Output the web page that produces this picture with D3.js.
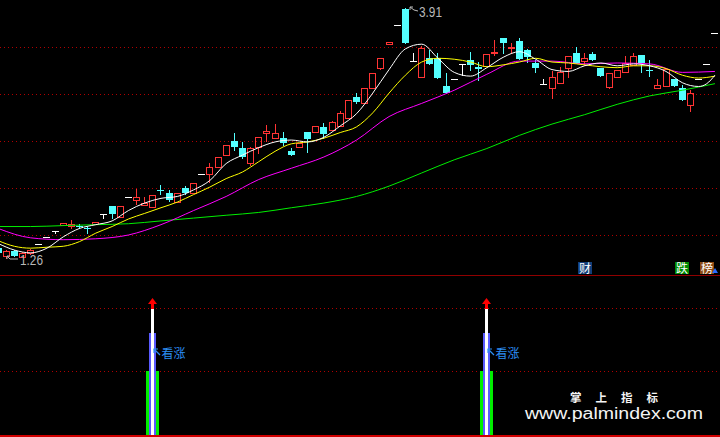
<!DOCTYPE html>
<html><head><meta charset="utf-8">
<script src="https://cdn.jsdelivr.net/npm/d3@7"></script>
<style>html,body{margin:0;padding:0;background:#000;overflow:hidden}svg{display:block}</style>
</head><body>
<svg id="c" width="720" height="437"></svg>
<script>
// ---- data (trading-day index 0..88) ----
const days = d3.range(89);
const open = [1.36,1.28,1.33,1.27,1.31,1.40,1.48,1.54,1.61,1.60,1.60,1.57,1.62,1.72,1.81,1.69,1.90,1.87,1.82,1.80,
1.98,1.95,1.85,2.00,1.95,2.15,2.15,2.22,2.35,2.50,2.43,2.27,2.44,2.59,2.53,2.53,2.39,2.44,2.60,2.60,
2.65,2.62,2.66,2.74,2.97,2.90,3.06,3.28,3.53,3.73,3.90,3.35,3.18,3.38,3.38,3.09,3.16,3.32,3.36,3.29,
3.30,3.44,3.60,3.49,3.56,3.47,3.33,3.11,3.06,3.12,3.28,3.44,3.35,3.43,3.28,3.07,3.18,3.23,3.31,3.42,
3.26,3.06,3.09,3.16,3.06,2.88,3.16,3.32,3.65];
const high = [1.37,1.34,1.34,1.32,1.35,1.40,1.48,1.54,1.63,1.66,1.62,1.60,1.64,1.72,1.81,1.81,1.90,1.99,1.90,1.93,
2.03,1.98,1.95,2.02,2.05,2.15,2.27,2.33,2.46,2.59,2.49,2.44,2.54,2.67,2.68,2.60,2.43,2.48,2.60,2.66,
2.69,2.71,2.82,2.94,3.01,3.06,3.22,3.38,3.55,3.73,3.91,3.44,3.51,3.47,3.44,3.22,3.16,3.32,3.45,3.34,
3.43,3.57,3.60,3.54,3.60,3.48,3.36,3.16,3.24,3.29,3.40,3.50,3.44,3.45,3.28,3.22,3.26,3.40,3.44,3.42,
3.36,3.16,3.27,3.16,3.10,3.04,3.16,3.32,3.65];
const low = [1.30,1.26,1.28,1.27,1.30,1.40,1.48,1.52,1.61,1.57,1.57,1.52,1.62,1.68,1.68,1.69,1.90,1.83,1.82,1.80,
1.94,1.86,1.85,1.94,1.95,2.15,2.06,2.22,2.35,2.40,2.32,2.25,2.37,2.50,2.53,2.46,2.35,2.44,2.38,2.60,
2.53,2.62,2.66,2.74,2.90,2.90,3.06,3.27,3.53,3.73,3.54,3.35,3.18,3.32,3.17,3.01,3.16,3.20,3.26,3.15,
3.30,3.41,3.44,3.44,3.37,3.34,3.23,3.11,2.96,3.12,3.18,3.33,3.31,3.36,3.19,3.06,3.18,3.23,3.31,3.23,
3.19,3.06,3.09,3.09,2.94,2.82,3.16,3.32,3.65];
const close = [1.31,1.33,1.28,1.31,1.34,1.40,1.48,1.54,1.63,1.62,1.59,1.56,1.64,1.72,1.72,1.81,1.90,1.90,1.84,1.93,
1.97,1.87,1.95,1.95,2.05,2.15,2.22,2.33,2.46,2.44,2.33,2.43,2.54,2.61,2.59,2.48,2.35,2.48,2.52,2.66,
2.57,2.70,2.80,2.94,2.91,3.06,3.22,3.38,3.55,3.73,3.54,3.35,3.49,3.32,3.17,3.01,3.16,3.32,3.31,3.27,
3.43,3.45,3.54,3.50,3.37,3.39,3.28,3.11,3.18,3.23,3.40,3.33,3.38,3.36,3.19,3.22,3.26,3.33,3.40,3.33,
3.25,3.10,3.27,3.09,2.94,3.01,3.16,3.32,3.65];

// moving averages
const ma5Days = [0,2,4,6,8,10,12,14,16,18,20,22,24,26,28,30,32,34,36,38,40,42,44,46,48,50,52,54,56,58,60,62,64,66,68,70,72,74,76,78,80,82,84,86,87,88];
const ma5 = [1.41,1.34,1.31,1.36,1.48,1.57,1.61,1.65,1.76,1.84,1.89,1.91,1.98,2.08,2.26,2.35,2.43,2.49,2.51,2.49,2.54,2.66,2.79,3.01,3.26,3.48,3.53,3.38,3.23,3.19,3.28,3.39,3.45,3.37,3.26,3.24,3.30,3.33,3.30,3.32,3.30,3.24,3.12,3.08,3.11,3.20];
const ma10Days = [0,2,4,6,8,10,12,14,16,18,20,22,24,26,28,30,32,34,36,38,40,42,44,46,48,50,52,54,56,58,60,62,64,66,68,70,72,74,76,78,80,82,84,86,88];
const ma10 = [1.44,1.38,1.36,1.37,1.38,1.43,1.52,1.59,1.67,1.73,1.79,1.85,1.93,2.01,2.10,2.17,2.28,2.39,2.47,2.49,2.53,2.59,2.65,2.80,3.01,3.20,3.34,3.38,3.37,3.34,3.29,3.31,3.34,3.38,3.34,3.33,3.31,3.29,3.28,3.30,3.30,3.27,3.20,3.17,3.19];
const ma20Days = [0,4,8,12,16,20,24,28,32,36,40,44,48,52,56,60,64,68,72,76,80,84,88];
const ma20 = [1.57,1.47,1.45,1.46,1.50,1.61,1.76,1.91,2.09,2.21,2.33,2.51,2.76,2.90,3.04,3.21,3.35,3.35,3.32,3.33,3.32,3.23,3.24];
const ma60Days = [0,4,8,12,16,20,24,28,32,36,40,44,48,52,56,60,64,68,72,76,80,84,88];
const ma60 = [1.59,1.59,1.60,1.61,1.62,1.65,1.68,1.71,1.74,1.79,1.84,1.91,2.02,2.16,2.30,2.42,2.56,2.68,2.78,2.89,2.98,3.04,3.11];

const priceTicks = [1.5, 2.0, 2.5, 3.0, 3.5];
const highLabel = "3.91", lowLabel = "1.26";
const highDay = 50, lowDay = 1;

// lower indicator panel
const signalDays = [19, 60];
const sigGreen = [50, 50];
const sigBlue = [80, 80];
const sigWhite = [100, 100];
const subTicks = [50, 100];
const signalText = "看涨";

// ---- drawing ----
const W = 720, H = 437;
const svg = d3.select('#c');
svg.append('rect').attr('width', W).attr('height', H).attr('fill', '#000');

const x = d3.scaleBand().domain(days).range([-6, 719]);
const bw = x.bandwidth();
const cxp = i => Math.floor(x(i) + bw / 2);
const y = d3.scaleLinear().domain([1.5, 3.5]).range([235, 47]);
const yS = d3.scaleLinear().domain([0, 100]).range([434, 308]);

const RED = '#ff3434', CYAN = '#54ffff', GRID = '#b00000';

// grid lines
svg.append('g').selectAll('line').data(priceTicks).join('line')
  .attr('x1', 0).attr('x2', W)
  .attr('y1', d => Math.round(y(d)) + 0.5).attr('y2', d => Math.round(y(d)) + 0.5)
  .attr('stroke', GRID).attr('stroke-dasharray', '1,3');
svg.append('g').selectAll('line').data(subTicks).join('line')
  .attr('x1', 0).attr('x2', W)
  .attr('y1', d => Math.round(yS(d)) + 0.5).attr('y2', d => Math.round(yS(d)) + 0.5)
  .attr('stroke', GRID).attr('stroke-dasharray', '1,3');

// panel separators
svg.append('line').attr('x1', 0).attr('x2', W).attr('y1', 275.5).attr('y2', 275.5)
  .attr('stroke', '#900000');
svg.append('rect').attr('x', 0).attr('y', 435).attr('width', W).attr('height', 2).attr('fill', '#d00000');

// main clip
svg.append('clipPath').attr('id', 'mc').append('rect').attr('x', 0).attr('y', 0).attr('width', W).attr('height', 275);
const main = svg.append('g').attr('clip-path', 'url(#mc)');
const cg = main.append('g').attr('shape-rendering', 'crispEdges');

days.forEach(i => {
  const o = open[i], c = close[i], h = high[i], l = low[i];
  const px = cxp(i);
  const yh = Math.round(y(h)), yl = Math.round(y(l));
  const yo = Math.round(y(o)), yc = Math.round(y(c));
  if (c > o) {
    const top = yc, bot = yo;
    if (bot - top >= 2) {
      if (yh < top) cg.append('line').attr('x1', px + 0.5).attr('x2', px + 0.5).attr('y1', yh).attr('y2', top).attr('stroke', RED);
      if (yl > bot) cg.append('line').attr('x1', px + 0.5).attr('x2', px + 0.5).attr('y1', bot + 1).attr('y2', yl + 1).attr('stroke', RED);
      cg.append('rect').attr('x', px - 2.5).attr('y', top + 0.5).attr('width', 6).attr('height', bot - top)
        .attr('fill', 'none').attr('stroke', RED);
    } else {
      cg.append('line').attr('x1', px + 0.5).attr('x2', px + 0.5).attr('y1', yh).attr('y2', yl + 1).attr('stroke', RED);
      cg.append('rect').attr('x', px - 3).attr('y', top).attr('width', 7).attr('height', Math.max(2, bot - top + 1)).attr('fill', RED);
    }
  } else if (c < o) {
    cg.append('line').attr('x1', px + 0.5).attr('x2', px + 0.5).attr('y1', yh).attr('y2', yl + 1).attr('stroke', CYAN);
    cg.append('rect').attr('x', px - 3).attr('y', yo).attr('width', 7).attr('height', Math.max(1, yc - yo)).attr('fill', CYAN);
  } else {
    cg.append('line').attr('x1', px - 3).attr('x2', px + 4).attr('y1', yc + 0.5).attr('y2', yc + 0.5).attr('stroke', '#fff');
    if (yl > yh) cg.append('line').attr('x1', px + 0.5).attr('x2', px + 0.5).attr('y1', yh).attr('y2', yl + 1).attr('stroke', '#fff');
  }
});

// moving average lines
const mkLine = d3.line().x(d => x(d[0]) + bw / 2).y(d => y(d[1])).curve(d3.curveMonotoneX);
[[ma60Days, ma60, '#00ee00'], [ma20Days, ma20, '#ff00ff'], [ma10Days, ma10, '#ffff00'], [ma5Days, ma5, '#ffffff']]
  .forEach(([ds, vs, col]) => {
    main.append('path').attr('d', mkLine(ds.map((d, k) => [d, vs[k]])))
      .attr('fill', 'none').attr('stroke', col).attr('stroke-width', 1);
  });

// high / low markers
{
  const px = cxp(highDay), yh = Math.round(y(high[highDay]));
  const col = '#b8b8b8';
  main.append('path').attr('d', `M${px + 5},${yh - 1} L${px + 9},${yh + 2} L${px + 13},${yh + 3}`).attr('fill', 'none').attr('stroke', col);
  main.append('path').attr('d', `M${px + 5},${yh + 2} L${px + 5},${yh - 1} L${px + 8},${yh - 1}`).attr('fill', 'none').attr('stroke', col);
  main.append('text').attr('x', px + 14).attr('y', yh + 9).text(highLabel)
    .attr('font-family', 'Liberation Sans, Arial, sans-serif').attr('font-size', 14).attr('fill', col)
    .attr('textLength', 23).attr('lengthAdjust', 'spacingAndGlyphs');
}
{
  const px = cxp(lowDay), yl = Math.round(y(low[lowDay]));
  const col = '#b8b8b8';
  main.append('path').attr('d', `M${px + 1},${yl - 2} L${px + 4},${yl + 1} L${px + 12},${yl + 1}`).attr('fill', 'none').attr('stroke', col);
  main.append('path').attr('d', `M${px + 1},${yl + 1} L${px + 1},${yl - 2} L${px + 4},${yl - 2}`).attr('fill', 'none').attr('stroke', col);
  main.append('text').attr('x', px + 14).attr('y', yl + 7).text(lowLabel)
    .attr('font-family', 'Liberation Sans, Arial, sans-serif').attr('font-size', 14).attr('fill', col)
    .attr('textLength', 23).attr('lengthAdjust', 'spacingAndGlyphs');
}

// info tags
const tags = [['财', 578, '#123e7a'], ['跌', 675, '#008a00'], ['榜', 700, '#8c4a12']];
tags.forEach(([t, tx, col]) => {
  svg.append('rect').attr('x', tx).attr('y', 262).attr('width', 14).attr('height', 12).attr('fill', col);
  svg.append('text').attr('x', tx + 7).attr('y', 272.5).attr('text-anchor', 'middle').text(t)
    .attr('font-family', 'Noto Sans CJK SC').attr('font-size', 12).attr('fill', '#fff');
});
svg.append('path').attr('d', 'M712,273 L718,273 L715,268 Z').attr('fill', '#2a6cff');

// signal bars
const sg = svg.append('g').attr('shape-rendering', 'crispEdges');
signalDays.forEach((d, k) => {
  const px = cxp(d), y0 = yS(0);
  sg.append('rect').attr('x', px - 6).attr('y', Math.round(yS(sigGreen[k]))).attr('width', 13)
    .attr('height', y0 - Math.round(yS(sigGreen[k])) + 1).attr('fill', '#00ee00');
  sg.append('rect').attr('x', px - 3).attr('y', Math.round(yS(sigBlue[k]))).attr('width', 7)
    .attr('height', y0 - Math.round(yS(sigBlue[k])) + 1).attr('fill', '#5a5aff');
  sg.append('rect').attr('x', px - 1).attr('y', Math.round(yS(sigWhite[k]))).attr('width', 3)
    .attr('height', y0 - Math.round(yS(sigWhite[k])) + 1).attr('fill', '#ffffff');
  const yt = Math.round(yS(sigWhite[k]));
  svg.append('path').attr('d', `M${px + 0.5},${yt - 10} L${px + 5},${yt - 4} L${px - 4},${yt - 4} Z`).attr('fill', '#ff0000');
  sg.append('rect').attr('x', px - 1).attr('y', yt - 5).attr('width', 3).attr('height', 6).attr('fill', '#ff0000');
  const bc = '#2c8ef2';
  svg.append('path').attr('d', `M${px + 8},${yt + 47} L${px + 2},${yt + 41}`).attr('stroke', bc).attr('stroke-width', 1.2).attr('fill', 'none');
  svg.append('path').attr('d', `M${px + 2},${yt + 45} L${px + 2},${yt + 41} L${px + 6},${yt + 41}`).attr('stroke', bc).attr('stroke-width', 1.2).attr('fill', 'none');
  svg.append('text').attr('x', px + 9.5).attr('y', yt + 50).text(signalText)
    .attr('font-family', 'Noto Sans CJK SC').attr('font-size', 12).attr('fill', bc);
});

// watermark
svg.append('text').attr('x', 570).attr('y', 401.5).text('掌上指标')
  .attr('font-family', 'Noto Sans CJK SC').attr('font-weight', 'bold').attr('font-size', 11.5)
  .attr('letter-spacing', 14).attr('fill', '#f4f4f4');
svg.append('text').attr('x', 525).attr('y', 418.5).text('www.palmindex.com')
  .attr('font-family', 'Liberation Sans, Arial, sans-serif').attr('font-size', 16)
  .attr('textLength', 178).attr('lengthAdjust', 'spacingAndGlyphs').attr('fill', '#f4f4f4');
</script>
</body></html>
